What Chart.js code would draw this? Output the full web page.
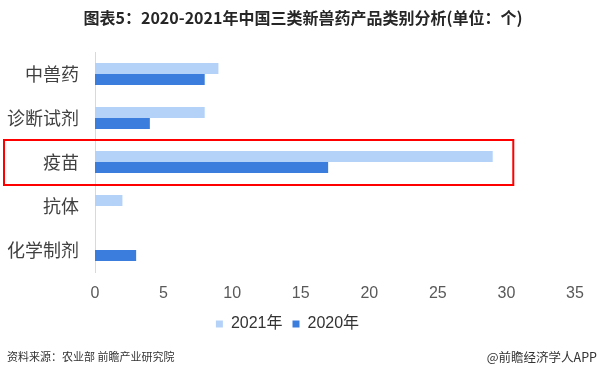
<!DOCTYPE html>
<html>
<head>
<meta charset="utf-8">
<script src="https://cdn.jsdelivr.net/npm/chart.js@4"></script>
<style>
  html, body { margin: 0; padding: 0; background: #fff; }
  #wrap { width: 600px; height: 377px; position: relative; }
</style>
</head>
<body>
<div id="wrap"><canvas id="c"></canvas></div>
<script>
// 图表5 数据
const categories = ['中兽药', '诊断试剂', '疫苗', '抗体', '化学制剂'];
const y2021 = [9, 8, 29, 2, 0];
const y2020 = [8, 4, 17, 0, 3];
const xTicks = [0, 5, 10, 15, 20, 25, 30, 35];

const TITLE = '图表5：2020-2021年中国三类新兽药产品类别分析(单位：个)';
const SOURCE = '资料来源：农业部 前瞻产业研究院';
const BRAND = '@前瞻经济学人APP';
const CJK = '"Noto Sans CJK SC", "Liberation Sans", sans-serif';

// title, footer and the red highlight box round 疫苗
const decor = {
  id: 'decor',
  afterDraw(chart) {
    const ctx = chart.ctx;
    const y = chart.scales.y, x = chart.scales.x;
    ctx.save();
    ctx.fillStyle = '#262626';
    ctx.font = 'bold 16px ' + CJK;
    ctx.textAlign = 'center';
    ctx.textBaseline = 'middle';
    ctx.fillText(TITLE, 303, 18);

    ctx.fillStyle = '#333';
    ctx.font = '11px ' + CJK;
    ctx.textAlign = 'left';
    ctx.fillText(SOURCE, 7, 357);
    ctx.font = '12.5px ' + CJK;
    ctx.textAlign = 'right';
    ctx.fillText(BRAND, 597, 357);

    const cy = y.getPixelForValue(2);
    ctx.strokeStyle = '#ff0000';
    ctx.lineWidth = 2;
    ctx.strokeRect(4, cy - 22, x.getPixelForValue(30.5) - 4, 45);
    ctx.restore();
  }
};

new Chart(document.getElementById('c'), {
  type: 'bar',
  data: {
    labels: categories,
    datasets: [
      { label: '2021年', data: y2021, backgroundColor: '#b4d2f8' },
      { label: '2020年', data: y2020, backgroundColor: '#3b7ddd' }
    ]
  },
  options: {
    indexAxis: 'y',
    responsive: true,
    maintainAspectRatio: false,
    animation: false,
    datasets: { bar: { categoryPercentage: 0.5, barPercentage: 1 } },
    layout: { padding: { left: 0, right: 25, top: 52, bottom: 35 } },
    scales: {
      x: {
        min: 0, max: 35,
        afterBuildTicks: s => { s.ticks = xTicks.map(v => ({ value: v })); },
        grid: { display: false },
        border: { display: false },
        ticks: { color: '#595959', font: { size: 16, family: '"Liberation Sans", Arial, sans-serif' }, padding: 4 },
        afterFit: s => { s.height = 34; }
      },
      y: {
        grid: { display: false },
        border: { display: true, color: '#d9d9d9', width: 1 },
        ticks: { color: '#404040', font: { size: 18, family: CJK }, padding: 8 },
        afterFit: s => { s.width = 95; }
      }
    },
    plugins: {
      legend: {
        position: 'bottom',
        labels: { boxWidth: 7, boxHeight: 7, color: '#333', padding: 10,
          font: { size: 16, family: '"Liberation Sans", ' + CJK } }
      },
      tooltip: { enabled: false }
    }
  },
  plugins: [decor]
});
</script>
</body>
</html>
